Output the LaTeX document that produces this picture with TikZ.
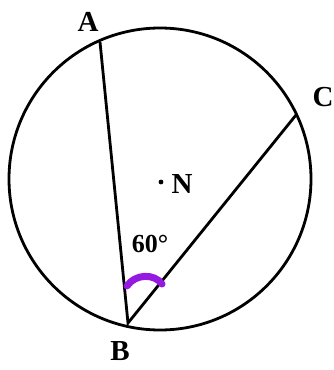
\documentclass[tikz,border=0pt]{standalone}
\usepackage{fontspec}
\setmainfont{Liberation Serif}
\begin{document}
\begin{tikzpicture}[x=1pt,y=-1pt,
  geo/.style={line width=2.8pt,black},
  lbl/.style={font=\fontsize{29}{31}\selectfont\bfseries,inner sep=0pt},
  markarc/.style={line width=7pt,color={rgb,255:red,150;green,25;blue,225},line cap=round}]
\useasboundingbox (0,0) rectangle (334,370);
\coordinate (O) at (160,179);
\coordinate (A) at (100,42);
\coordinate (B) at (128,323);
\coordinate (C) at (296,115);
\draw[geo] (O) circle (151);
\draw[geo] (A) -- (B) -- (C);
\draw[markarc] (127,286) .. controls (135,274) and (154,273) .. (162,284);
\node[lbl] (la) at (88,22) {A};
\node[lbl] (lb) at (120,351) {B};
\node[lbl] (lc) at (323,97) {C};
\node[lbl] (ln) at (182,184) {N};
\fill (161,182) circle (2.4) node[inner sep=0pt] (dotN) {};
\node[lbl,font=\fontsize{26}{28}\selectfont\bfseries] (ang) at (150,244) {60°};
\end{tikzpicture}
\end{document}
